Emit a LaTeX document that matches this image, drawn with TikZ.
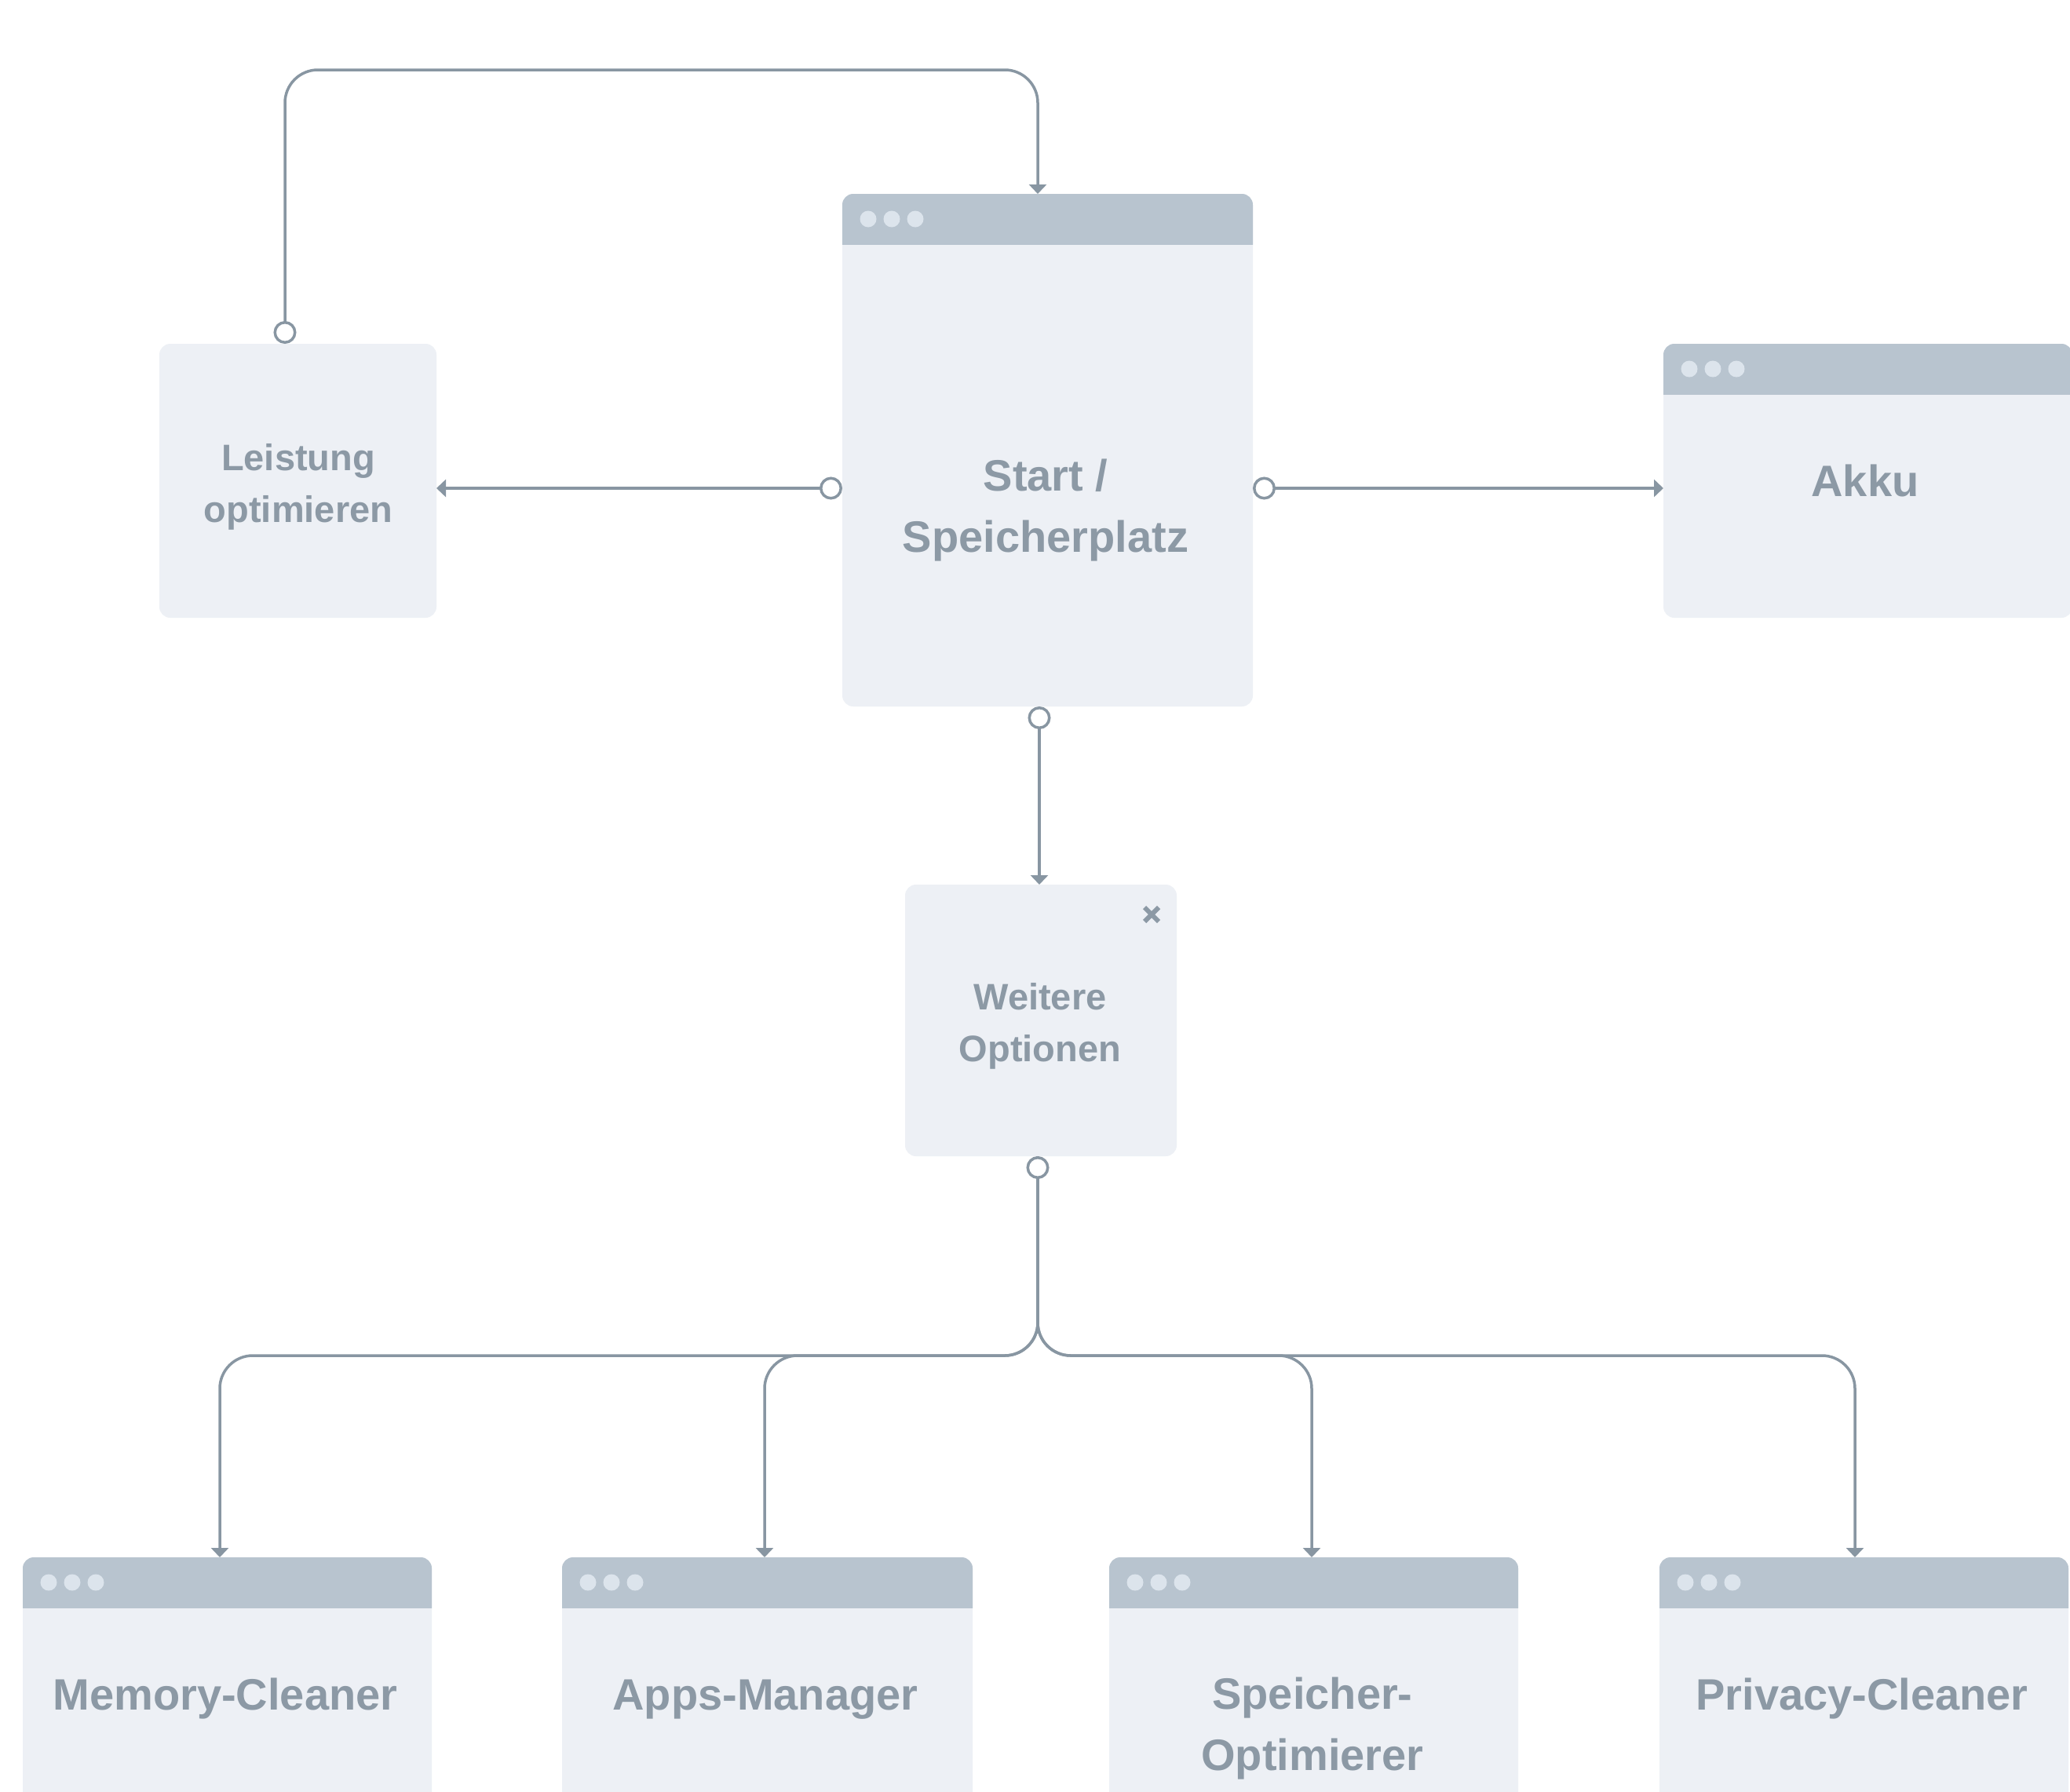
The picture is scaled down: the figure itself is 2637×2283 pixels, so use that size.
\documentclass[tikz,border=0pt]{standalone}
\usepackage{fontspec}
\setmainfont{Liberation Sans}
\usetikzlibrary{arrows.meta}
\definecolor{linec}{HTML}{8896A2}
\definecolor{txtc}{HTML}{8C99A5}
\definecolor{bodyc}{HTML}{EDF0F5}
\definecolor{hdrc}{HTML}{B8C4CF}
\definecolor{dotc}{HTML}{DCE4EC}
\tikzset{
  win/.style={fill=bodyc, rounded corners=14pt, inner sep=0pt, outer sep=0pt, anchor=north west},
  lblbig/.style={text=txtc, inner sep=0pt, align=center, font=\bfseries\fontsize{56pt}{78pt}\selectfont},
  lblsmall/.style={text=txtc, inner sep=0pt, align=center, font=\bfseries\fontsize{47pt}{66pt}\selectfont},
  conn/.style={draw=linec, line width=3.5pt},
  tipin/.style={-{Triangle[length=12pt,width=22pt]}},
  tipboth/.style={{Circle[open,fill=white,length=29pt,width=29pt]}-{Triangle[length=12pt,width=22pt]}},
}
\begin{document}
\begin{tikzpicture}[x=1pt,y=-1pt]
\useasboundingbox (0,0) rectangle (2637,2283);
\fill[white] (0,0) rectangle (2637,2283);
\clip (0,0) rectangle (2637,2283);

% boxes
\node[win, minimum width=523pt, minimum height=653pt] (start) at (1073,247) {};
\node[win, minimum width=353pt, minimum height=349pt] (leist) at (203,438) {};
\node[win, minimum width=521pt, minimum height=349pt] (akku) at (2119,438) {};
\node[win, minimum width=346pt, minimum height=346pt] (weit) at (1153,1127) {};
\node[win, minimum width=521pt, minimum height=330pt] (mem) at (29,1984) {};
\node[win, minimum width=523pt, minimum height=330pt] (apps) at (716,1984) {};
\node[win, minimum width=521pt, minimum height=330pt] (spo) at (1413,1984) {};
\node[win, minimum width=521pt, minimum height=330pt] (priv) at (2114,1984) {};

% window headers with dots
\foreach \n in {start,akku,mem,apps,spo,priv}{
  \begin{scope}
    \clip (\n.north west) rectangle ([yshift=-64pt]\n.north east);
    \fill[hdrc, rounded corners=14pt] (\n.north west) rectangle (\n.south east);
  \end{scope}
  \foreach \dx in {33,63,93}{
    \fill[dotc] ([xshift=\dx pt,yshift=-32pt]\n.north west) circle (10.5pt);
  }
}

% close mark
\draw[txtc, line width=6pt] (1458,1156) -- (1476,1174) (1458,1174) -- (1476,1156);

% labels
\node[lblbig] (startlbl) at (1332,650) {Start /\\Speicherplatz};
\node[lblsmall] (leistlbl) at (380,620) {Leistung\\optimieren};
\node[lblbig, anchor=base] (akkulbl) at (2376,632) {Akku};
\node[lblsmall] (weitlbl) at (1325,1307) {Weitere\\Optionen};
\node[lblbig, anchor=base] (memlbl) at (287,2178) {Memory-Cleaner};
\node[lblbig, anchor=base] (appslbl) at (975,2178) {Apps-Manager};
\node[lblbig] (spolbl) at (1672,2202) {Speicher-\\Optimierer};
\node[lblbig, anchor=base] (privlbl) at (2372,2178) {Privacy-Cleaner};

% connectors
\draw[conn, tipboth, rounded corners=42pt] ([xshift=-16.5pt]leist.north) -- ++(0,-349) -| ([xshift=-12.5pt]start.north);
\draw[conn, tipboth] ([yshift=-48.5pt]start.west) -- ([yshift=-9.5pt]leist.east);
\draw[conn, tipboth] ([yshift=-48.5pt]start.east) -- ([yshift=-9.5pt]akku.west);
\draw[conn, tipboth] ([xshift=-10.5pt]start.south) -- ([xshift=-2pt]weit.north);

\draw[conn, tipin, rounded corners=42pt] ([xshift=-4pt]weit.south) -- ++(0,254) -| ([xshift=-2.5pt]spo.north);
\draw[conn, tipin, rounded corners=42pt] ([xshift=-4pt]weit.south) -- ++(0,254) -| ([xshift=-11.5pt]priv.north);
\draw[conn, tipin, rounded corners=42pt] ([xshift=-4pt]weit.south) -- ++(0,254) -| ([xshift=-3.5pt]apps.north);
\draw[conn, tipboth, rounded corners=42pt] ([xshift=-4pt]weit.south) -- ++(0,254) -| ([xshift=-9.5pt]mem.north);
\end{tikzpicture}
\end{document}
